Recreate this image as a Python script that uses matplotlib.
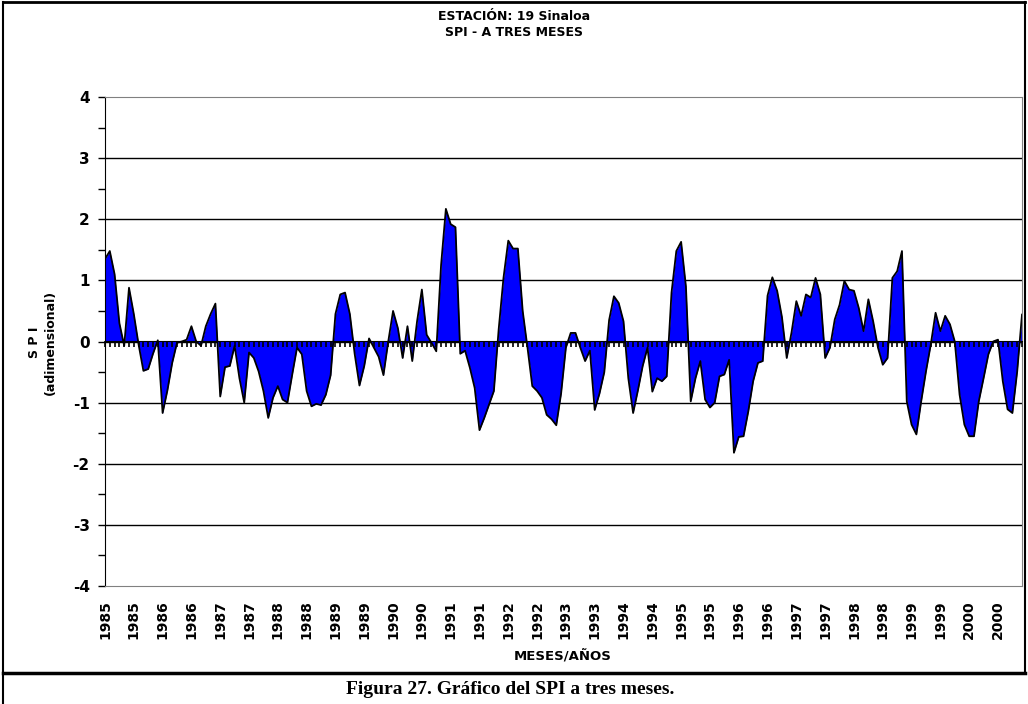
import numpy as np
import matplotlib
matplotlib.use('Agg')
import matplotlib.pyplot as plt
from matplotlib.lines import Line2D

plt.rcParams['axes.unicode_minus'] = False

# monthly SPI (3 months), Jan 1985 - Dec 2000
spi = [
    1.35, 1.48, 1.10, 0.30, -0.07, 0.88, 0.45, -0.05, -0.48, -0.45, -0.20, 0.02,
    -1.17, -0.80, -0.35, -0.02, 0.00, 0.03, 0.25, 0.00, -0.07, 0.25, 0.45, 0.62,
    -0.90, -0.42, -0.40, -0.07, -0.60, -1.00, -0.18, -0.27, -0.49, -0.81, -1.25, -0.92,
    -0.73, -0.95, -1.00, -0.54, -0.10, -0.21, -0.81, -1.06, -1.02, -1.04, -0.87, -0.55,
    0.45, 0.77, 0.80, 0.45, -0.20, -0.72, -0.40, 0.05, -0.10, -0.25, -0.55, 0.00,
    0.50, 0.22, -0.27, 0.25, -0.32, 0.33, 0.85, 0.11, -0.02, -0.16, 1.25, 2.17,
    1.92, 1.87, -0.20, -0.15, -0.43, -0.76, -1.45, -1.25, -1.03, -0.81, 0.20, 1.04,
    1.65, 1.52, 1.52, 0.50, -0.10, -0.73, -0.81, -0.92, -1.20, -1.27, -1.37, -0.85,
    -0.10, 0.14, 0.14, -0.10, -0.32, -0.15, -1.12, -0.85, -0.50, 0.35, 0.74, 0.63,
    0.33, -0.60, -1.17, -0.80, -0.40, -0.10, -0.82, -0.60, -0.65, -0.57, 0.80, 1.48,
    1.63, 0.90, -0.98, -0.60, -0.32, -0.95, -1.08, -1.00, -0.57, -0.54, -0.30, -1.82,
    -1.56, -1.55, -1.14, -0.65, -0.35, -0.32, 0.75, 1.05, 0.83, 0.40, -0.27, 0.15,
    0.66, 0.42, 0.77, 0.72, 1.04, 0.77, -0.27, -0.10, 0.36, 0.60, 0.99, 0.85,
    0.83, 0.55, 0.17, 0.69, 0.33, -0.10, -0.38, -0.27, 1.04, 1.15, 1.48, -0.98,
    -1.36, -1.52, -0.98, -0.49, -0.05, 0.47, 0.17, 0.42, 0.28, 0.00, -0.87, -1.36,
    -1.55, -1.55, -0.98, -0.60, -0.21, 0.00, 0.03, -0.65, -1.11, -1.17, -0.49, 0.44,
]
start_year = 1985
label_step = 6

months = np.arange(len(spi))
label_pos = months[::label_step]
label_txt = [str(start_year + m // 12) for m in label_pos]

fig = plt.figure(figsize=(10.28, 7.04), dpi=100)
ax = fig.add_axes([105 / 1028, 1 - 586 / 704, 917 / 1028, 489 / 704])

ax.fill_between(months, 0, spi, color='#0000ff', linewidth=0, zorder=1)
ax.plot(months, spi, color='black', lw=1.3, zorder=2)

ax.set_xlim(0, len(spi) - 1)
ax.set_ylim(-4, 4)
for v in range(-3, 4):
    ax.axhline(v, color='black', lw=1.0, zorder=0)

ax.set_yticks(range(-4, 5))
ax.set_yticks(np.arange(-4, 4.01, 0.5), minor=True)
ax.tick_params(axis='y', which='both', direction='out', length=5, width=1, pad=6,
               labelsize=11)
for t in ax.get_yticklabels():
    t.set_fontweight('bold')

ax.set_xticks(label_pos)
ax.set_xticklabels(label_txt, rotation=90, fontsize=10, fontweight='bold')
ax.tick_params(axis='x', length=0, pad=10)

for s in ['top', 'right', 'bottom']:
    ax.spines[s].set_color('#808080')
ax.spines['left'].set_color('black')

# zero axis with monthly ticks pointing down
sec = ax.secondary_xaxis(0.5)
sec.set_xticks(months)
sec.tick_params(direction='in', length=4, width=1.2, labelbottom=False, labeltop=False)
sec.set_xticklabels([])
sec.spines['bottom'].set_linewidth(1.5)
sec.set_zorder(3)

fig.text(0.5, 1 - 17 / 704, 'ESTACIÓN: 19 Sinaloa', ha='center', va='center',
         fontsize=9, fontweight='bold')
fig.text(0.5, 1 - 33 / 704, 'SPI - A TRES MESES', ha='center', va='center',
         fontsize=9, fontweight='bold')
fig.text(35 / 1028, 1 - 342 / 704, 'S P I', rotation=90, ha='center', va='center',
         fontsize=9, fontweight='bold')
fig.text(50 / 1028, 1 - 342 / 704, '(adimensional)', rotation=90, ha='center',
         va='center', fontsize=9, fontweight='bold')
fig.text(563 / 1028, 1 - 656 / 704, 'MESES/AÑOS', ha='center', va='center',
         fontsize=9.5, fontweight='bold')
fig.text(510 / 1028, 1 - 689 / 704, 'Figura 27. Gráfico del SPI a tres meses.',
         ha='center', va='center', fontsize=14, fontweight='bold',
         family='Liberation Serif')

# frame lines round the chart
def fline(x0, y0, x1, y1, lw):
    fig.add_artist(Line2D([x0 / 1028, x1 / 1028], [1 - y0 / 704, 1 - y1 / 704],
                          color='black', lw=lw))

fline(3, 2, 1025, 2, 2)
fline(3, 2, 3, 704, 1.5)
fline(1025, 2, 1025, 673, 1.5)
fline(3, 673, 1025, 673, 2.5)

fig.savefig('out.png', dpi=100)
